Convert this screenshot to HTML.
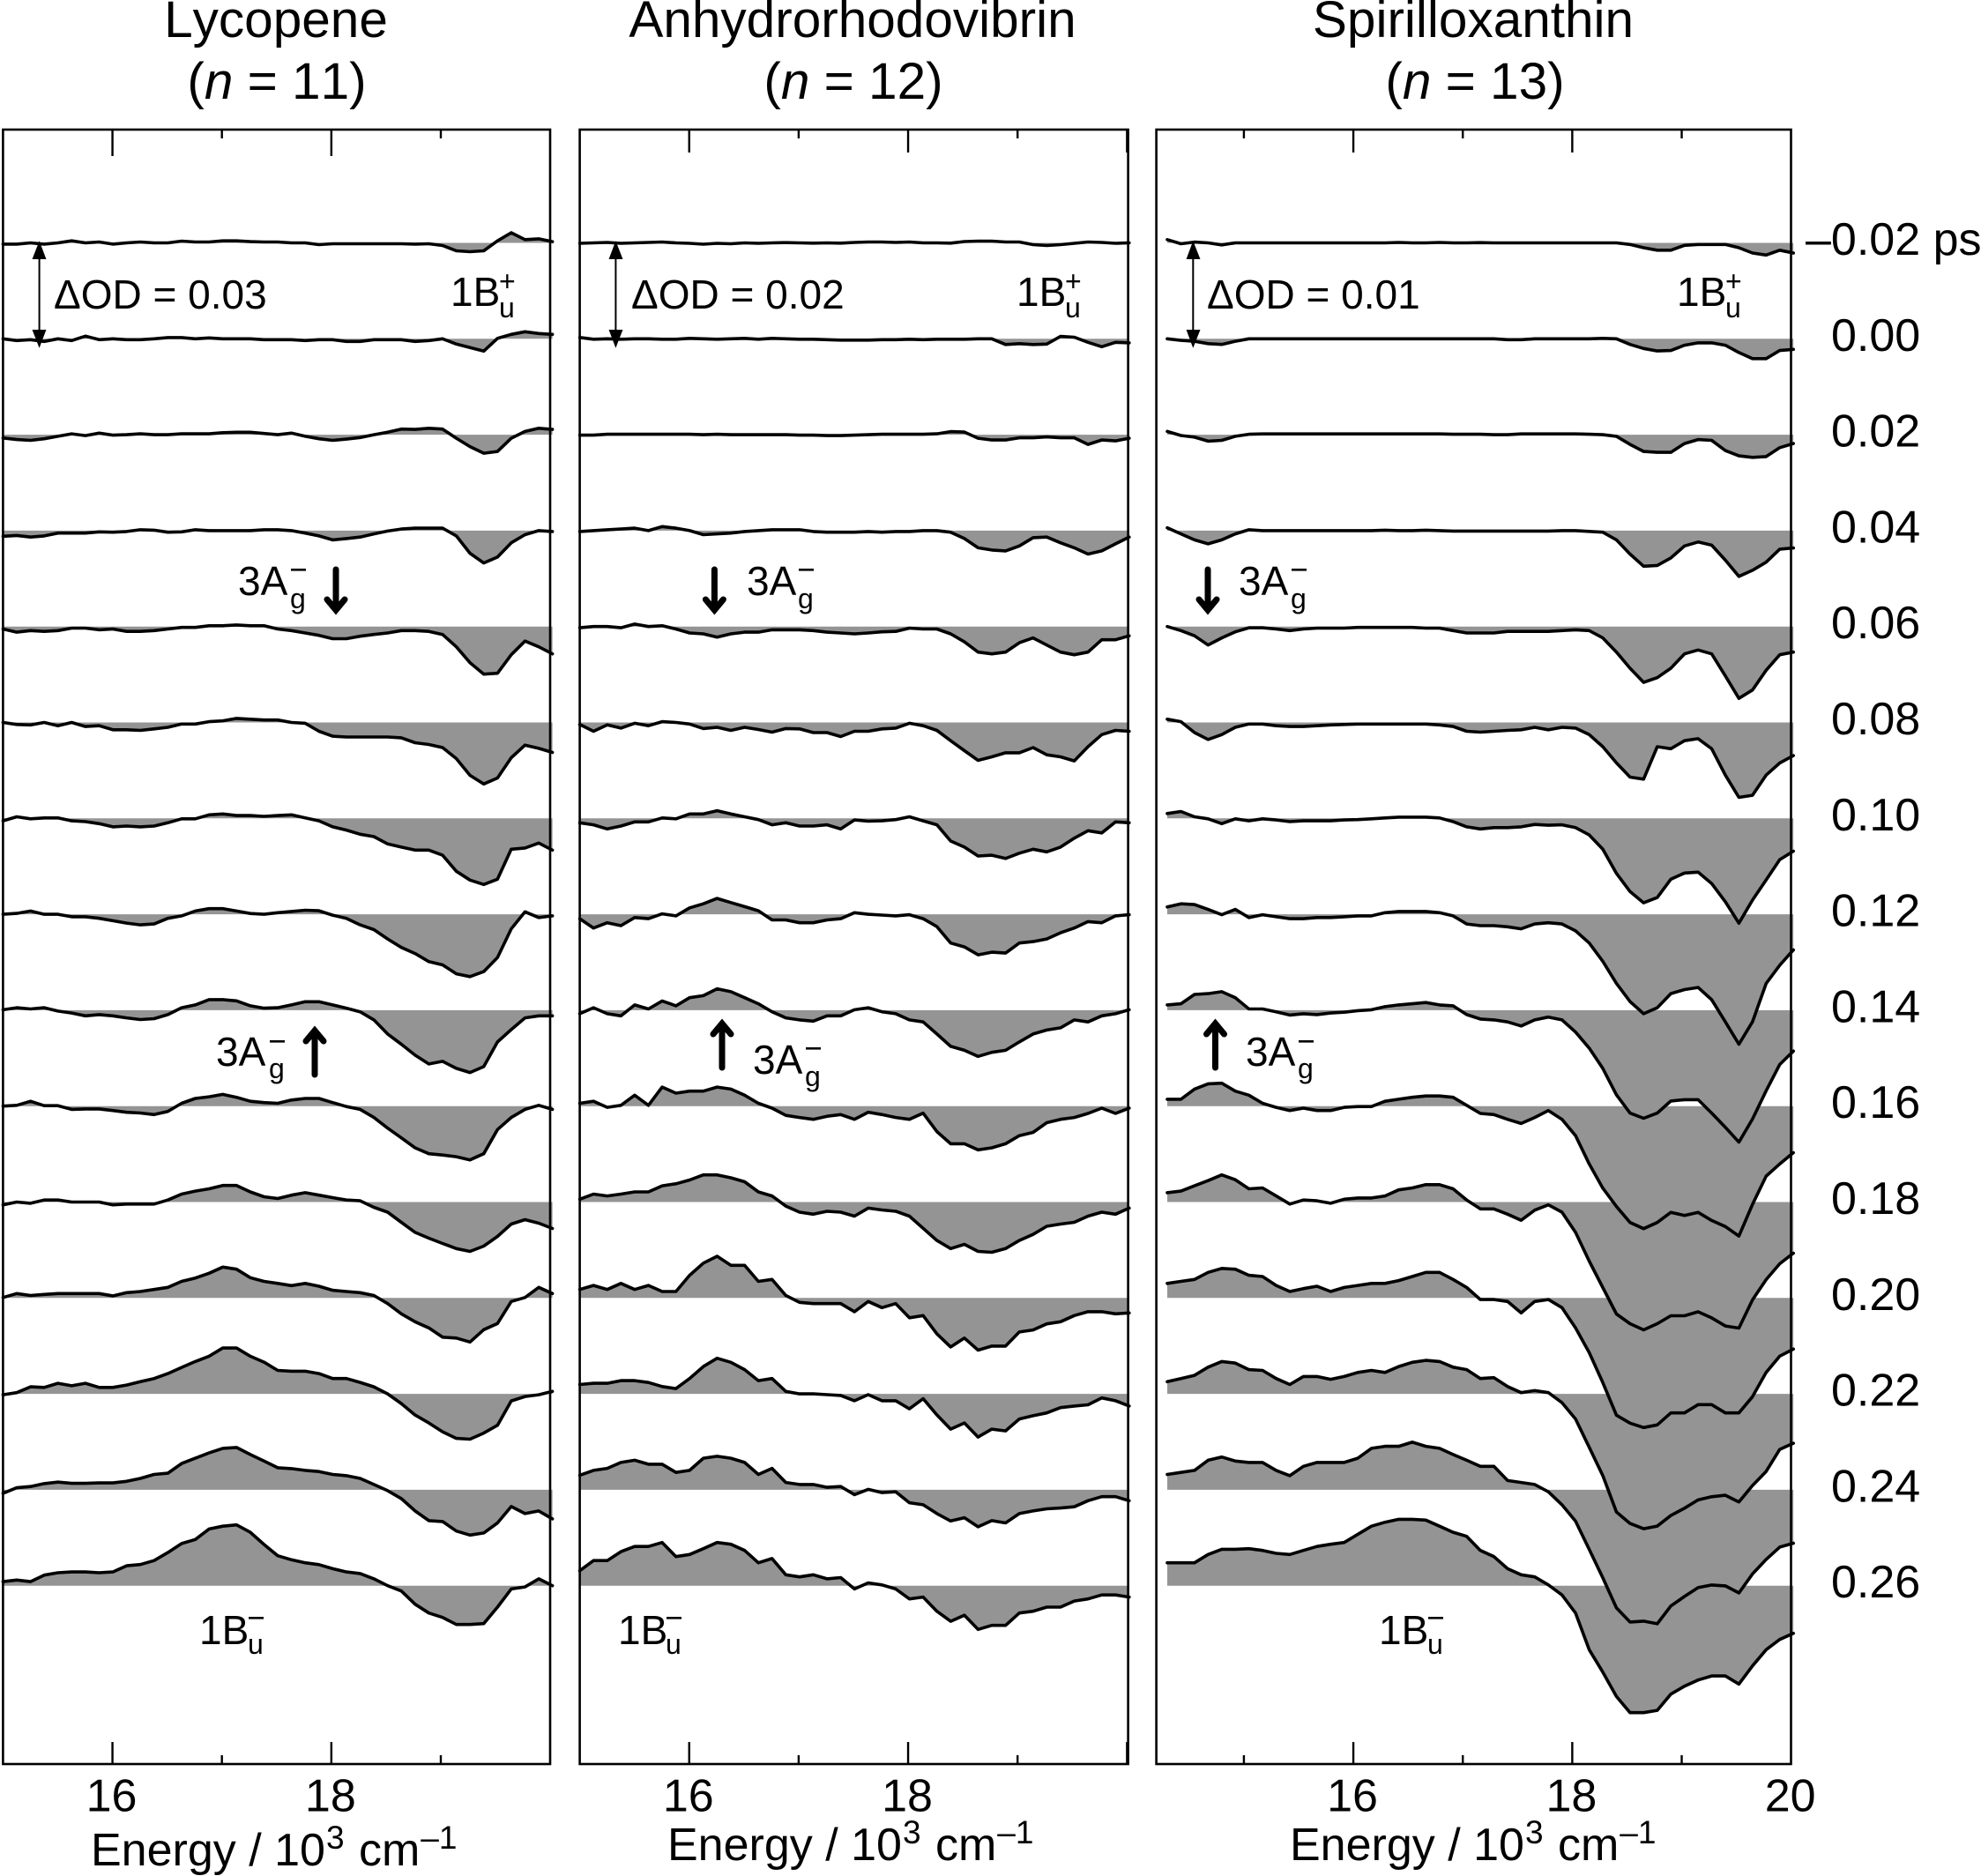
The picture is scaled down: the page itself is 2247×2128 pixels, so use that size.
<!DOCTYPE html>
<html lang="en">
<head>
<meta charset="utf-8">
<title>Transient absorption spectra of carotenoids</title>
<style>
html,body{margin:0;padding:0;background:#fff;}
svg{display:block;}
text{font-family:"Liberation Sans",Arial,sans-serif;fill:#000;font-kerning:none;}
</style>
</head>
<body>
<svg id="figure" xmlns="http://www.w3.org/2000/svg" width="2247" height="2128" viewBox="0 0 2247 2128">
  <g id="plots"></g>

  <g font-size="58.5" text-anchor="middle">
    <text x="313" y="42">Lycopene</text>
    <text x="314" y="112">(<tspan font-style="italic">n</tspan> = 11)</text>
    <text x="967" y="42">Anhydrorhodovibrin</text>
    <text x="968" y="112">(<tspan font-style="italic">n</tspan> = 12)</text>
    <text x="1671" y="42">Spirilloxanthin</text>
    <text x="1673" y="112">(<tspan font-style="italic">n</tspan> = 13)</text>
  </g>

  <g font-size="52">
    <text x="103" y="2116">Energy / 10<tspan font-size="37" dy="-19" dx="1">3</tspan><tspan dy="19" dx="2"> cm</tspan><tspan font-size="37" dy="-19" dx="1">–1</tspan></text>
    <text x="757" y="2110">Energy / 10<tspan font-size="37" dy="-19" dx="1">3</tspan><tspan dy="19" dx="2"> cm</tspan><tspan font-size="37" dy="-19" dx="1">–1</tspan></text>
    <text x="1463" y="2110">Energy / 10<tspan font-size="37" dy="-19" dx="1">3</tspan><tspan dy="19" dx="2"> cm</tspan><tspan font-size="37" dy="-19" dx="1">–1</tspan></text>
  </g>

  <g font-size="46">
    <g stroke="#000" stroke-width="2">
      <line x1="44.6" y1="284" x2="44.6" y2="385"/>
      <polygon points="44.6,276 38,293 51,293" fill="#000"/><polygon points="44.6,392 38,375 51,375" fill="#000"/>
    </g>
    <text x="61" y="350">ΔOD = 0.03</text>
    <g stroke="#000" stroke-width="2">
      <line x1="698.4" y1="284" x2="698.4" y2="385"/>
      <polygon points="698.4,276 692,293 705,293" fill="#000"/><polygon points="698.4,392 692,375 705,375" fill="#000"/>
    </g>
    <text x="716" y="350">ΔOD = 0.02</text>
    <g stroke="#000" stroke-width="2">
      <line x1="1353.3" y1="284" x2="1353.3" y2="385"/>
      <polygon points="1353.3,276 1347,293 1360,293" fill="#000"/><polygon points="1353.3,392 1347,375 1360,375" fill="#000"/>
    </g>
    <text x="1369" y="350">ΔOD = 0.01</text>
  </g>

  <g font-size="46">
    <g><text x="511" y="347">1B</text><text x="566" y="330" font-size="32">+</text><text x="566" y="360" font-size="32">u</text></g>
    <g><text x="1153" y="347">1B</text><text x="1208" y="330" font-size="32">+</text><text x="1208" y="360" font-size="32">u</text></g>
    <g><text x="1902" y="347">1B</text><text x="1957" y="330" font-size="32">+</text><text x="1957" y="360" font-size="32">u</text></g>

    <g><text x="270" y="675">3A</text><rect x="330" y="645" width="17" height="2.6"/><text x="329" y="690" font-size="32">g</text></g>
    <g><text x="847" y="675">3A</text><rect x="906" y="645" width="17" height="2.6"/><text x="905" y="690" font-size="32">g</text></g>
    <g><text x="1405" y="675">3A</text><rect x="1465" y="645" width="17" height="2.6"/><text x="1464" y="690" font-size="32">g</text></g>

    <g><text x="245" y="1209">3A</text><rect x="306" y="1180" width="17" height="2.6"/><text x="305" y="1223" font-size="32">g</text></g>
    <g><text x="854" y="1218">3A</text><rect x="914" y="1188" width="17" height="2.6"/><text x="913" y="1232" font-size="32">g</text></g>
    <g><text x="1413" y="1209">3A</text><rect x="1473" y="1180" width="17" height="2.6"/><text x="1472" y="1223" font-size="32">g</text></g>

    <g><text x="226" y="1865">1B</text><rect x="282" y="1834" width="17" height="2.6"/><text x="281" y="1876" font-size="32">u</text></g>
    <g><text x="701" y="1865">1B</text><rect x="756" y="1834" width="17" height="2.6"/><text x="755" y="1876" font-size="32">u</text></g>
    <g><text x="1564" y="1865">1B</text><rect x="1620" y="1834" width="17" height="2.6"/><text x="1619" y="1876" font-size="32">u</text></g>
  </g>

  <g fill="none" stroke="#000" stroke-width="7" stroke-linecap="round" stroke-linejoin="miter">
    <g><line x1="381" y1="646" x2="381" y2="690"/><polyline points="371,680 381,692 391,680"/></g>
    <g><line x1="810.4" y1="646" x2="810.4" y2="690"/><polyline points="800.4,680 810.4,692 820.4,680"/></g>
    <g><line x1="1370" y1="646" x2="1370" y2="690"/><polyline points="1360,680 1370,692 1380,680"/></g>
    <g><line x1="357" y1="1219" x2="357" y2="1172"/><polyline points="347,1181 357,1169 367,1181"/></g>
    <g><line x1="819" y1="1211" x2="819" y2="1164"/><polyline points="809,1173 819,1161 829,1173"/></g>
    <g><line x1="1378.5" y1="1211" x2="1378.5" y2="1164"/><polyline points="1368.5,1173 1378.5,1161 1388.5,1173"/></g>
  </g>
</svg>

<script>
// Delay times printed at the right of the figure
const delayLabels = ['–0.02 ps','0.00','0.02','0.04','0.06','0.08','0.10','0.12','0.14','0.16','0.18','0.20','0.22','0.24','0.26'];

// Axis ticks (10^3 cm^-1)
const majorTicks = [16, 18, 20];
const minorTicks = [15, 17, 19];

// Signal in a.u. (108.8 a.u. equals the scale bar of the panel), one row per delay.
// Each row is sampled evenly from the panel's first energy to its last energy.
const lycopeneSignal = [
[-1.4,-1.4,0,-1.4,0,2.3,0,1,-1.4,0,1,0,0,2,1,1,2.3,2.3,1.4,1,1,0,0,-2,-1,-1,-1,-1,-1,-1,-1.4,-1,-3,-9,-10,-9,2.3,11.5,3.7,4.6,1.4],
[0,-2,-1,-3,0,-2,3,-1,0,-1,-1,0,1.4,1.4,0,1,0,0,0,-1,-1,-1,-2,-1,-1,-3,-3,-1,-1,-1,-3,-2,0,-6,-10,-14,.5,5,8,6,5],
[-3.7,-5.5,-6.4,-4.6,-1.8,1,-1,1.8,-.5,0,1,0,0,1,1,1,2.3,2.8,2.8,1.4,0,1.8,-1.8,-4.6,-6.4,-5,-3.2,0,2.8,6.4,6,7.3,6.4,-4,-13.5,-21,-19,-4,3.7,7.3,6],
[-6.4,-5.5,-7.3,-6,-2.8,-2.8,-2.8,-1.4,-1.8,-1,1,.5,-1.8,-1.4,1,0,0,0,0,1,1,0,-2.8,-6,-10.5,-9,-7.3,-3.7,-.5,1.8,2.8,2.8,2.8,-6,-25.7,-36.7,-30,-13.8,-4.6,0,-1],
[-2.8,-6.4,-4.6,-5.5,-4.6,-1.8,-1.8,-3.7,-2.8,-5.5,-5.5,-4.6,-2.8,-1,-1,.9,.9,1.8,.9,.9,-2.8,-4.6,-7.3,-10,-13.8,-13.8,-11,-9,-7.3,-4.6,-4.6,-5.5,-9,-23,-41,-54,-53,-32,-16.5,-23,-31],
[0,-2.3,-2.8,0,-3.7,0,-4.6,-3.7,-8.3,-8.3,-9,-7.3,-5.5,-1.8,-1.8,.9,1.8,4.6,3.7,2.8,2.8,0,-.9,-10,-15.6,-16.5,-16.5,-16.5,-16.5,-17.4,-23,-25,-28.5,-41,-60,-69.8,-63,-40,-25.7,-29.4,-34],
[-2.8,1.8,-.5,.5,.5,-2.8,-3.7,-6,-9.6,-8.7,-9.6,-8.7,-5,-.5,-.5,4,5,3.2,3.2,2.3,3.2,4,.5,-2.8,-9.6,-13.3,-18,-20.7,-29,-32.6,-36,-36,-41.8,-60,-70,-75,-69,-35,-33.6,-28,-36],
[0,1,3.7,0,0,-2.8,-2.8,-4.6,-7.3,-10,-12,-11,-4.6,-1.8,3.7,6.4,6.4,3.7,.9,0,1.8,3.2,4.6,4,-1,-4.6,-12,-17.4,-28,-37.6,-44.5,-53.7,-57.4,-67.5,-70.7,-65,-49,-16.5,2.8,-3.7,-1.8],
[.5,2.8,1.4,2.8,-1,-3.2,-6.4,-5,-6.4,-8.7,-10.6,-9.6,-5,2.8,6,12,12,10.6,5,2.3,2.8,6,9.6,9.6,6,2.3,-1.8,-11,-27,-38.6,-51,-61,-58,-66,-70.7,-64,-36,-22,-8.7,-6.4,-6.4],
[0,.9,5.5,.5,.5,-3.7,-3.2,-3.2,-5,-7,-7.8,-9.6,-6,3.2,8.7,10.6,13.3,10,5.5,4,3.2,6.9,8.7,8.7,4,-.5,-3.7,-12.9,-25,-36,-47.3,-54,-55.5,-57.4,-61,-54,-26.6,-12.9,-3.7,.9,-3.7],
[-3.2,0,-1.4,2.3,2.3,0,0,0,-3.2,-2.3,-2.3,-2.3,2.3,9,12.4,15,18.8,18.8,11.5,6,4,7.8,10.6,7.8,5,2.3,1.4,-6,-11.5,-23,-34.4,-41,-47,-52.8,-56,-50,-39,-25,-20,-24,-30],
[.5,5,2.8,4,5,5,5,5,2.3,6,7.3,9.6,12,18.8,22.6,28,35,32.6,23,18.8,16.5,14,16.5,13.3,8.7,7.3,6,2.8,-6.4,-18,-27,-34,-44.5,-45.5,-50,-36,-29,-4,.5,12,5],
[-1,1.4,8,7.3,12,9.2,12,7.3,7.3,10,13.8,17.4,23,30,36.7,42.7,52,52,42.7,36,26.6,25.7,25.7,23,17.4,17.4,13,8,0,-11,-24,-33,-43,-50.5,-51.4,-44.5,-35.6,-8,-3,-1,2.8],
[-4,2.3,3.7,7,8.7,7.3,7.3,7.8,7.8,9.6,12.9,17.4,18.8,29.8,35.8,41.8,47,48,40,32.6,25,24,22,20.7,17.4,16,12.9,6,-1,-10,-24,-35,-36,-46.8,-51.4,-49,-37.6,-19,-27,-24,-33],
[4.6,6.4,4.6,12,14.7,15.6,15.6,14.7,15.6,22.6,24,28.5,37.6,47.8,52.4,64.3,67.5,69,60.6,46.8,34,29.4,26,23.9,19.3,15.6,13.8,7.8,0,-6,-21,-31,-36,-44,-44,-43,-24.3,-3.7,-1.4,7.8,0]
];

const anhydrorhodovibrinSignal = [
[-.5,0,.5,-.5,0,.5,1,0,-.5,-1.5,-.5,-1,0,-.5,0,.3,0,-.3,0,-.3,.5,1,1,.5,1,0,0,-.3,1.5,2,2,1,1,-2,-3,-2,-.5,1,.5,-.5,0],
[1.5,-.5,0,-.5,0,0,-.5,-.5,.5,0,-.5,0,.5,-.5,.5,0,-.5,-.5,-1,-1.5,-1.5,-1.5,-1,-1,-.5,-1,-.5,-.5,-.5,0,0,-6.5,-5.5,-6.5,-6,2.7,1.8,-4,-9,-4,-4.6],
[-.5,-.5,.5,.5,.5,.5,.5,.5,.5,0,.5,0,0,0,0,0,-.5,-.5,-1,-1,-.5,0,.5,.5,.5,.5,1,3.5,3,-4,-6,-6,-3.5,-3.5,-2.5,-3.5,-3.5,-11,-6,-7,-4],
[-1,0,1,1.8,2.8,0,4.6,2.8,0,-4.6,-3.7,-2.8,-1,0,1,1,1,-1,-1.8,-1.8,-1.8,-1,-1.8,-1,-1,0,0,-1.8,-9,-19.5,-22,-23,-17.4,-8,-7.3,-13.8,-19.5,-26.6,-23,-15,-7.3],
[-1.4,0,0,-1.4,2.8,0,.9,-2.8,-7.3,-8.3,-12,-8.3,-6.4,-6.4,-3.7,-3.7,-3.7,-4.6,-6.4,-7.3,-8.3,-7.3,-6,-5.5,-1.8,-2.8,-2.8,-8.3,-17.4,-29,-31,-29,-18.4,-12.9,-21,-29,-32,-29,-15,-15,-10.5],
[-2.3,-10,-2.8,-6.4,-.9,-3.7,.9,0,-1.8,-6.9,-5.5,-9,-5.5,-8,-11,-6.9,-7.3,-11.5,-11.5,-16,-10,-10,-7.3,-6.4,-.9,-3.7,-9,-20.7,-32,-43,-39,-34.4,-34.4,-28.5,-36.7,-39,-43.6,-27.5,-13.8,-9,-10],
[-5,-7.3,-12,-8.7,-4,-4,.5,-.5,5,5,8.7,5,1.8,-1.4,-7.3,-5,-8.7,-8.7,-7.3,-12,-1.8,-3.2,-2.8,-1.4,1.8,-2.8,-7.3,-25.7,-32.6,-42.7,-41.8,-45.5,-39.5,-35,-38,-32.6,-22.5,-14,-16.5,-4,-5],
[-5,-15.6,-9.6,-12.9,-3.7,-5,.5,-1.8,7.3,11.9,18,13.3,8.7,4,-6.4,-6.4,-9.6,-9.6,-6.4,-5,1.8,0,-.9,-1.8,-.5,-5,-14,-32.6,-37,-46,-43,-44,-32.6,-31,-28,-21,-15.6,-8.3,-9.6,-1.8,-.5],
[-4,2.8,-4,-6.4,6,1.4,10.5,5,14.2,16.5,24.3,21,14.2,7.3,-1.8,-8.7,-11,-12.4,-6.4,-6.4,.5,2.8,-1.8,-4,-11,-13.3,-27,-41,-45.5,-52.4,-47.8,-45.5,-36,-27,-22.5,-20,-11,-13.3,-6.4,-4,.5],
[3.2,5.5,-1.4,.9,12.4,.9,21.6,14.7,17,17,21.6,19.3,12.4,3.2,-2.3,-10.5,-12.9,-15,-11.5,-9.6,-15,-6.9,-9.6,-12.9,-15,-8,-28.9,-42.7,-42.7,-49.6,-47.3,-42.7,-33.5,-29.8,-18.8,-15,-12.9,-8.3,-2.3,-8.3,-2.3],
[3.2,9,6.9,9,11.5,11.5,18.4,20.7,25,30.8,30.8,27.5,23,11.5,6.9,-4.6,-11.5,-13.8,-10.5,-11.5,-16,-6.9,-9,-10.5,-16,-29.8,-43.6,-52.8,-48,-56,-57,-52.8,-43.6,-36.7,-27.5,-25,-23,-16,-11.5,-13.8,-6.9],
[9.6,14.2,9.6,16.5,9.6,14.2,7.3,7.3,25.7,39.5,47.3,37,37,18.8,21,2.8,-5,-6.4,-6.4,-6.4,-15.6,-4,-11,-6.4,-22.5,-20,-40.8,-55.6,-45.5,-59.2,-54.6,-54.6,-38.6,-36.3,-29.4,-27,-20,-15.6,-15.6,-18,-17],
[10.6,12,12,15,15,12.9,8.3,6,17.4,31,40.4,35.8,27.5,15,17.4,2.8,0,0,-.9,-1.8,-7.8,-.9,-7.8,-7.8,-17,-5.5,-23.9,-40,-33,-49,-40,-42,-28.5,-24.8,-21.6,-15.6,-13.8,-12.4,-4.6,-7.8,-13.8],
[16.5,22,24.3,31,33.5,29,29,19.7,22,35.8,38,35.8,31,17.4,24.3,8.3,6,6,2.8,3.7,-5.5,.5,-3.2,-2.3,-14.7,-17,-27,-35.4,-31.7,-42,-35,-37.6,-27,-24,-21.6,-20.7,-19.3,-12.4,-7.8,-7.8,-12.4],
[17,28.5,28.5,38.6,44.5,44.5,49,33,35.4,42,49,47,40,26,30.8,12.4,10,12.4,7.8,9.2,-3.7,3.2,.9,-3.7,-15,-12.9,-29,-40.4,-33.5,-49.6,-45,-45,-31,-29,-24.3,-24.3,-17.4,-15,-10.5,-10.5,-12.9]
];

const spirilloxanthinSignal = [
[3.7,-1,.9,0,-2.3,0,0,0,0,0,0,0,0,0,0,0,0,.5,0,0,.5,0,0,.3,0,0,0,0,0,0,0,0,0,0,-1.8,-5.5,-8.3,-8.3,-2.8,-1.8,-1.8,-1.8,-5.5,-11.5,-13.8,-8.3,-11.5],
[0,-1.8,-2.8,-5.5,-6.4,-2.8,0,0,0,0,0,0,0,0,0,0,0,0,0,0,0,0,0,0,0,-1,-1,0,0,0,0,0,.5,0,-6.4,-11,-13.8,-13.3,-7.3,-4.6,-4.6,-7.3,-15.6,-22.5,-22.5,-13.3,-12],
[3.7,-.9,-2.8,-7.3,-6.4,-1.8,.5,.9,.9,.9,.9,.9,.9,.9,.9,.9,.9,.9,.9,.9,.9,.5,.5,.5,0,0,.9,.9,.9,.9,.9,.5,0,-1.8,-11,-19,-20,-20,-10,-5.5,-6.4,-18,-24,-25.7,-24.8,-14.7,-10],
[3.2,-3.7,-10.5,-15,-10.5,-3.7,1,0,0,0,0,0,0,0,0,0,.5,0,0,.5,0,-.5,-.5,-.5,-.5,-.5,-.5,-.5,-.5,0,0,-.9,-1.8,-10.5,-26.6,-40.4,-39.5,-31,-17.4,-12.9,-16.5,-33.5,-51.9,-45,-35.8,-21,-19.7],
[0,-4.6,-10.5,-21,-12.9,-6,-1.4,-1.4,-2.8,-4.6,-2.8,-1.8,-1.8,-1.8,-1,-1,-1,-1,-1,-1.8,-1.8,-4.6,-7.3,-7.3,-7.3,-5.5,-5.5,-5.5,-5.5,-4.6,-3.7,-4.6,-12.9,-29,-47.3,-63.3,-58,-47.3,-31,-26.6,-31,-56,-81.5,-72,-49.6,-32,-29],
[3.7,.9,-11.5,-19.3,-13.8,-5.5,-1.8,-1.8,-3.7,-4.6,-4.6,-3.7,-2.8,-2.3,-1.8,-1.8,-1.8,-1.8,-1.8,-1.8,-2.8,-4.6,-10,-11,-10,-9,-8.3,-5.5,-8.3,-5.5,-6.4,-13.8,-27.5,-45.9,-62,-64.3,-27.5,-29.8,-20.7,-18.4,-29.8,-59.7,-85,-82.6,-59.7,-46,-37.6],
[5.5,7.8,1.8,-.5,-6,-.5,-2.8,-.5,-1.8,-3.7,-2.8,-2.8,-2.8,-1.8,-1.4,-.5,.5,1.4,1.4,1.4,.5,-3.7,-9.6,-12,-10.5,-10.5,-9.6,-6.9,-7.8,-7.3,-10.5,-18.8,-34.9,-62.4,-83,-95.8,-89.8,-69,-62,-61,-73.9,-94.6,-118.9,-92.7,-69.8,-46.8,-37.2],
[8.3,11.9,11,5.5,-.5,5.5,-3.7,-.5,-2.8,-5,-5,-3.7,-3.7,-2.8,-1.8,-1.8,1.8,3.2,3.2,3.2,1.8,-1.8,-11,-12.9,-12.9,-14.2,-16.5,-11,-9.6,-11,-18.8,-32.6,-53.3,-78.5,-99,-112.8,-106,-90,-85.4,-83,-96.9,-122,-147.4,-122,-78.5,-57.8,-40.4],
[6,7.3,17.9,18.8,21,14.2,1.4,1.4,-1.8,-5.5,-4,-5,-3.2,-2.3,-.5,.5,4,6,7.3,8.7,6,5,-5,-10,-11,-13.3,-17.9,-11,-7.8,-11,-24.8,-43,-66,-96,-116.7,-122.6,-116.7,-103,-101.5,-101.5,-116.7,-132.8,-149.7,-123.5,-91.4,-61.6,-46.4],
[7.8,7.8,19.3,25.3,26,17,12.4,3.2,-1.4,-5,-2.3,-5,-5,-1.4,-.5,-.5,5.5,7.8,10,11.5,11.5,10,.9,-8.3,-9.6,-15,-19.7,-12.9,-5,-15,-33.5,-65.6,-93,-113.9,-132,-139,-132,-120.5,-124,-120.5,-129.7,-136.6,-147.4,-111.5,-79.4,-65.6,-52.8],
[10.6,12.4,18.4,24.3,30.8,25.3,15,16,6.9,-2.3,2.3,1.4,-1.4,3.2,4.6,4.6,6.9,13.8,16,19.7,19.7,15,2.3,-7.8,-7.8,-13.8,-20.7,-9.2,-3.2,-11.5,-34.4,-67,-97,-127,-138,-145,-138,-129,-129,-124.5,-131.4,-140.6,-143,-111,-88,-70,-58],
[16.5,18.8,21,29,33.5,32.6,25.7,24.3,14.2,7.3,10.6,13.3,7.3,11.9,14.2,16.5,16.5,19.7,24.3,29,29,21,11.9,-1.8,-1.8,-4,-17,-4,-1.8,-11,-34,-62,-96,-133,-142,-147,-144,-130.4,-130.4,-121,-121,-130.4,-130.4,-112,-84.5,-66,-58],
[13.8,17.4,21,30.3,36.7,34.9,27.5,26.6,17.4,10.6,19.7,19.7,16.5,19.7,24.3,26.6,24.3,31,35.8,38,36.7,30.3,27.5,17.4,18.4,8.3,1.4,3.7,1.4,-10,-28.5,-60.6,-92.7,-134,-147,-153,-150,-138,-129.7,-120.3,-116.7,-115,-122.6,-104,-88,-63,-56],
[17.4,19.7,22,33.5,37.2,32.6,31,31,22,16,26.6,31,31,31,35.8,47,49.3,49.3,54,49.3,47,40,33.5,26.6,26.6,10.5,8.3,6,-2.3,-17,-35.6,-67.6,-99.8,-134,-150,-149,-152,-131.8,-121,-111,-108,-109,-117,-95.5,-79,-65,-60.6],
[26,26,26,35.4,41.3,41.3,42,40,36.7,35.4,40,44.5,47,49,58.3,67.5,72,75.3,75.3,74.4,67.5,60.6,56,40,33,19.3,12.4,10,.9,-10.5,-31,-72.6,-98,-125.7,-144,-144,-141.4,-123,-114,-107,-102.4,-102.4,-111.6,-91,-72.6,-61,-54]
];

// Panel geometry and axis configuration
const SVG_NS = 'http://www.w3.org/2000/svg';
const PX_PER_ENERGY = 124.15;
const FRAME_TOP = 147;
const FRAME_BOTTOM = 2001;
const FIRST_BASELINE = 275.5;
const BASELINE_STEP = 108.8;
const FILL_GRAY = '#949494';

const panels = [
  {key:'lycopene', frameLeft:3.4, frameRight:624, eMin:15, first:15, last:20.02, signal:lycopeneSignal, topMajor:30, labels:[16,18], labelY:2054.5},
  {key:'anhydrorhodovibrin', frameLeft:657.6, frameRight:1279.6, eMin:15, first:15, last:20.02, signal:anhydrorhodovibrinSignal, topMajor:26, labels:[16,18], labelY:2054.5},
  {key:'spirilloxanthin', frameLeft:1311.6, frameRight:2031.5, eMin:14.2, first:14.3, last:20.02, signal:spirilloxanthinSignal, topMajor:26, labels:[16,18,20], labelY:2054.5}
];

function xScale(panel, energy) {
  return panel.frameLeft + (energy - panel.eMin) * PX_PER_ENERGY;
}
function baselineY(delayIndex) {
  return FIRST_BASELINE + delayIndex * BASELINE_STEP;
}
function yScale(delayIndex, value) {
  return baselineY(delayIndex) - value;
}
function make(tag, attrs, parent) {
  const el = document.createElementNS(SVG_NS, tag);
  for (const k in attrs) el.setAttribute(k, attrs[k]);
  parent.appendChild(el);
  return el;
}

const plots = document.getElementById('plots');

panels.forEach(function (panel) {
  const group = make('g', {}, plots);
  
  

  // filled areas first, then lines, so every line sits over the gray
  panel.signal.forEach(function (row, d) {
    const pts = row.map(function (v, i) {
      const e = panel.first + (panel.last - panel.first) * i / (row.length - 1);
      return xScale(panel, e).toFixed(1) + ',' + yScale(d, v).toFixed(1);
    });
    const y0 = baselineY(d).toFixed(1);
    const xFirst = xScale(panel, panel.first).toFixed(1);
    const xLast = xScale(panel, panel.last).toFixed(1);
    const fill = make('polygon', {points: xFirst + ',' + y0 + ' ' + pts.join(' ') + ' ' + xLast + ',' + y0, fill: FILL_GRAY, stroke: 'none'}, group);
    
    
  });

  panel.signal.forEach(function (row, d) {
    const pts = row.map(function (v, i) {
      const e = panel.first + (panel.last - panel.first) * i / (row.length - 1);
      return xScale(panel, e).toFixed(1) + ',' + yScale(d, v).toFixed(1);
    });
    const line = make('polyline', {points: pts.join(' '), fill: 'none', stroke: '#000', 'stroke-width': 3.6, 'stroke-linejoin': 'round', 'stroke-linecap': 'round'}, group);
    
    
  });

  const frame = make('rect', {x: panel.frameLeft, y: FRAME_TOP, width: panel.frameRight - panel.frameLeft, height: FRAME_BOTTOM - FRAME_TOP, fill: 'none', stroke: '#000', 'stroke-width': 2.6}, group);
  
  

  function drawTick(energy, topLen, bottomLen) {
    const x = xScale(panel, energy);
    if (x <= panel.frameLeft + 1 || x >= panel.frameRight - 1) return;
    const top = make('line', {x1: x, x2: x, y1: FRAME_TOP, y2: FRAME_TOP + topLen, stroke: '#000', 'stroke-width': 2.4}, group);
    
    
    const bottom = make('line', {x1: x, x2: x, y1: FRAME_BOTTOM, y2: FRAME_BOTTOM - bottomLen, stroke: '#000', 'stroke-width': 2.4}, group);
    
    
  }
  majorTicks.forEach(function (e) { drawTick(e, panel.topMajor, 25); });
  minorTicks.forEach(function (e) { drawTick(e, 10, 10); });

  panel.labels.forEach(function (e) {
    const t = make('text', {x: xScale(panel, e) - 1, y: panel.labelY, 'font-size': 52, 'text-anchor': 'middle'}, group);
    t.textContent = String(e);
    
    
  });
});

delayLabels.forEach(function (label, d) {
  const t = make('text', {x: d === 0 ? 2048 : 2077, y: baselineY(d) + 13.5, 'font-size': 52}, plots);
  t.textContent = label;
  
  
});
</script>
</body>
</html>
